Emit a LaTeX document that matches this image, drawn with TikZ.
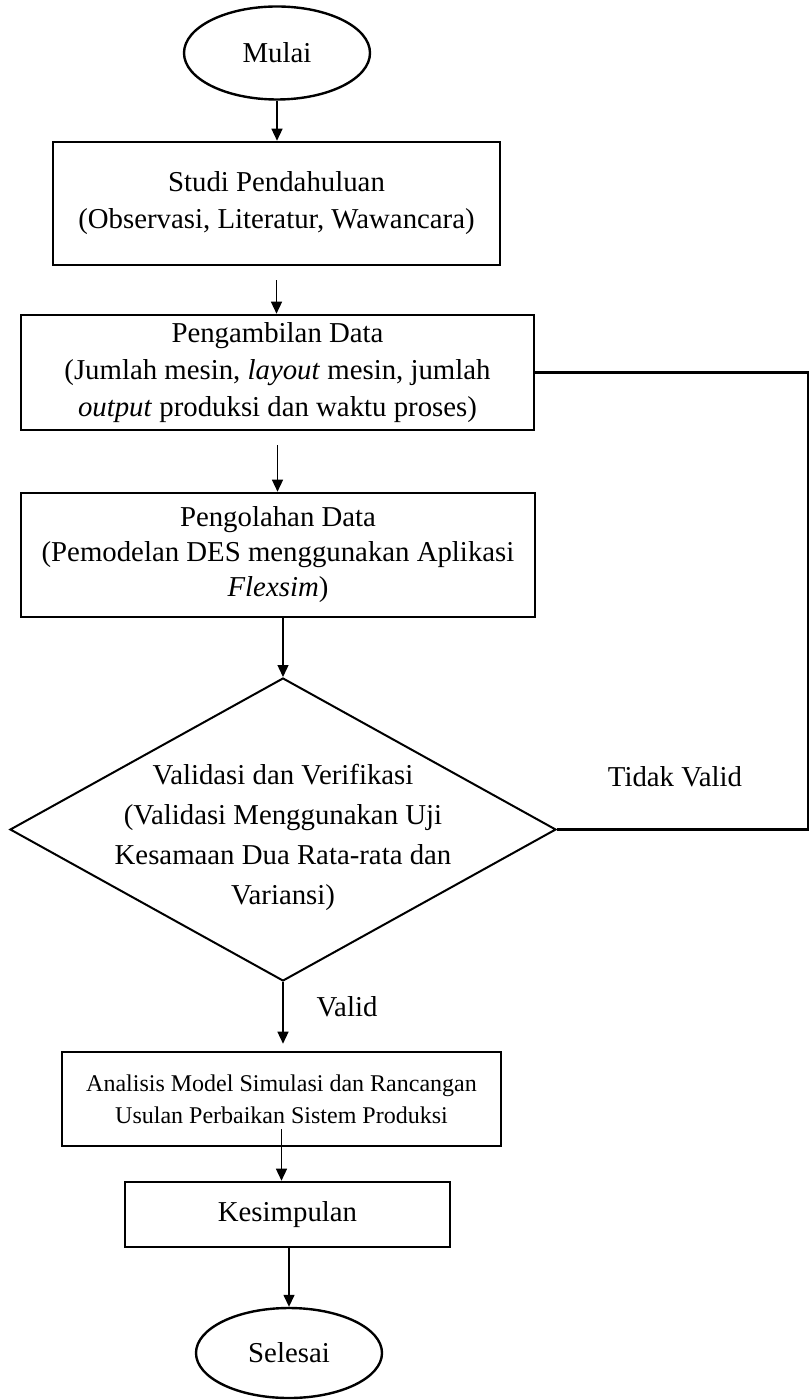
\documentclass[tikz,border=0pt]{standalone}
\usepackage{fontspec}
\setmainfont{Liberation Serif}
\usetikzlibrary{shapes.geometric}
\usetikzlibrary{arrows.meta}
\tikzset{>={Triangle[length=6pt,width=5.5pt]}}

\begin{document}
\begin{tikzpicture}[
x=0.5pt, y=-0.5pt,
box/.style = {
    draw, line width=1.3pt,
    align=center, inner sep=0pt,
    font=\fontsize{14.4}{18.5}\selectfont,
                },
term/.style = {
    draw, ellipse, line width=1.2pt,
    inner sep=0pt, minimum width=93pt,
    font=\fontsize{14.4}{18.5}\selectfont,
                },
flow/.style = {->, line width=0.7pt},
                    ]
\useasboundingbox (0,0) rectangle (811,1400);
\node[term, minimum height=46.5pt] (mulai) at (277,53) {Mulai};
\node[box, minimum width=223.5pt, minimum height=61.5pt] (studi)
    at (276.5,203.5) {Studi Pendahuluan\\(Observasi, Literatur, Wawancara)};
\node[box, minimum width=256.5pt, minimum height=57.5pt] (ambil)
    at (277.5,372.5) {Pengambilan Data\\(Jumlah mesin, \textit{layout} mesin, jumlah\\
    \textit{output} produksi dan waktu proses)};
\node[box, minimum width=257pt, minimum height=62pt,
      font=\fontsize{14.4}{17.5}\selectfont] (olah)
    at (278,555) {Pengolahan Data\\(Pemodelan DES menggunakan Aplikasi\\\textit{Flexsim})};
\node[draw, diamond, line width=1pt, inner sep=0pt,
      minimum width=273pt, minimum height=151.5pt] (uji) at (283,829.5) {};
\node[align=center, font=\fontsize{14.4}{20}\selectfont] (ujitext) at (283,837)
    {Validasi dan Verifikasi\\(Validasi Menggunakan Uji\\Kesamaan Dua Rata-rata dan\\Variansi)};
\node[box, minimum width=219.5pt, minimum height=47pt,
      font=\fontsize{12}{16}\selectfont] (analisis)
    at (281.5,1099) {Analisis Model Simulasi dan Rancangan\\Usulan Perbaikan Sistem Produksi};
\node[box, minimum width=162.5pt, minimum height=32.5pt] (simpul)
    at (287.5,1214.5) {Kesimpulan};
\node[term, minimum height=45pt] (selesai) at (289,1353) {Selesai};
\node[font=\fontsize{14.4}{18.5}\selectfont] (tidak) at (675,777) {Tidak Valid};
\node[font=\fontsize{14.4}{18.5}\selectfont] (valid) at (347,1007) {Valid};
\coordinate (balik) at (808,0);

% alur utama
\draw[flow] (mulai.south) -- (mulai.south |- studi.north);
\draw[flow, shorten <=7pt] (studi.south) -- (studi.south |- ambil.north);
\draw[flow, shorten <=7pt] (ambil.south) -- (ambil.south |- olah.north);
\draw[flow] (uji.north |- olah.south) -- (uji.north);
\draw[flow, shorten >=3.5pt] (uji.south) -- (uji.south |- analisis.north);
\draw[flow] ([yshift=9pt]analisis.south) -- (analisis.south |- simpul.north);
\draw[flow] (simpul.south -| selesai.north) -- (selesai.north);
% tidak valid
\draw[line width=1.3pt] (uji.east) -- (uji.east -| balik)
    -- (balik |- ambil.east) -- (ambil.east);
\end{tikzpicture}
\end{document}
